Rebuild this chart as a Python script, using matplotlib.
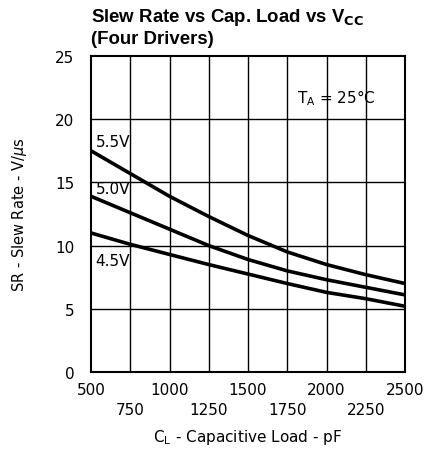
import numpy as np
import matplotlib.pyplot as plt

# capacitive load, pF
cap_load = [500, 750, 1000, 1250, 1500, 1750, 2000, 2250, 2500]
# slew rate, V/us
sr_55 = [17.5, 15.7, 13.9, 12.3, 10.8, 9.5, 8.5, 7.7, 7.0]
sr_50 = [13.9, 12.6, 11.3, 10.0, 8.9, 8.0, 7.3, 6.7, 6.1]
sr_45 = [11.0, 10.1, 9.3, 8.5, 7.75, 7.0, 6.3, 5.8, 5.2]

x_ticks = [500, 750, 1000, 1250, 1500, 1750, 2000, 2250, 2500]
y_ticks = [0, 5, 10, 15, 20, 25]

fig = plt.figure(figsize=(4.28, 4.52), dpi=100)
ax = fig.add_axes([91/428, 1-373/452, (405-91)/428, (373-57)/452])

for v in x_ticks[1:-1]:
    ax.axvline(v, color='black', lw=1.0, zorder=1)
for v in y_ticks[1:-1]:
    ax.axhline(v, color='black', lw=1.0, zorder=1)

for s in [sr_55, sr_50, sr_45]:
    ax.plot(cap_load, s, color='black', lw=2.6, solid_capstyle='butt', zorder=3)

ax.set_xlim(500, 2500)
ax.set_ylim(0, 25)
for sp in ax.spines.values():
    sp.set_linewidth(1.5)

ax.set_xticks(x_ticks)
ax.set_xticklabels([])
ax.set_yticks(y_ticks)
ax.set_yticklabels([str(v) for v in y_ticks], fontsize=11)
ax.tick_params(length=0, pad=12)

# staggered x tick labels, two rows
for i, v in enumerate(x_ticks):
    ax.annotate(str(v), xy=(v, 0), xycoords=('data', 'axes fraction'),
                xytext=(0, -12.5 if i % 2 == 0 else -27), textcoords='offset points',
                ha='center', va='center', fontsize=11)

ax.text(1500, -0.203, r'C$_\mathregular{L}$ - Capacitive Load - pF',
        transform=ax.get_xaxis_transform(), ha='center', va='center', fontsize=11)
fig.text(20/428, 1-215/452, r'SR - Slew Rate - V/$\mu$s', rotation=90,
         ha='center', va='center', fontsize=10.5)

ax.text(530, 18.2, '5.5V', fontsize=11, va='center', ha='left')
ax.text(530, 14.5, '5.0V', fontsize=11, va='center', ha='left')
ax.text(530, 8.8, '4.5V', fontsize=11, va='center', ha='left')
ax.text(1810, 21.75, r'T$_\mathregular{A}$ = 25$\degree$C', fontsize=11,
        va='center', ha='left')

fig.text(91/428, 1-18/452, r'Slew Rate vs Cap. Load vs V$_\mathbf{CC}$',
         fontsize=13.4, fontweight='bold', family='Liberation Sans', va='center', ha='left')
fig.text(91/428, 1-40/452, '(Four Drivers)', fontsize=13.4, fontweight='bold',
         family='Liberation Sans', va='center', ha='left')

fig.savefig('out.png', dpi=100)
